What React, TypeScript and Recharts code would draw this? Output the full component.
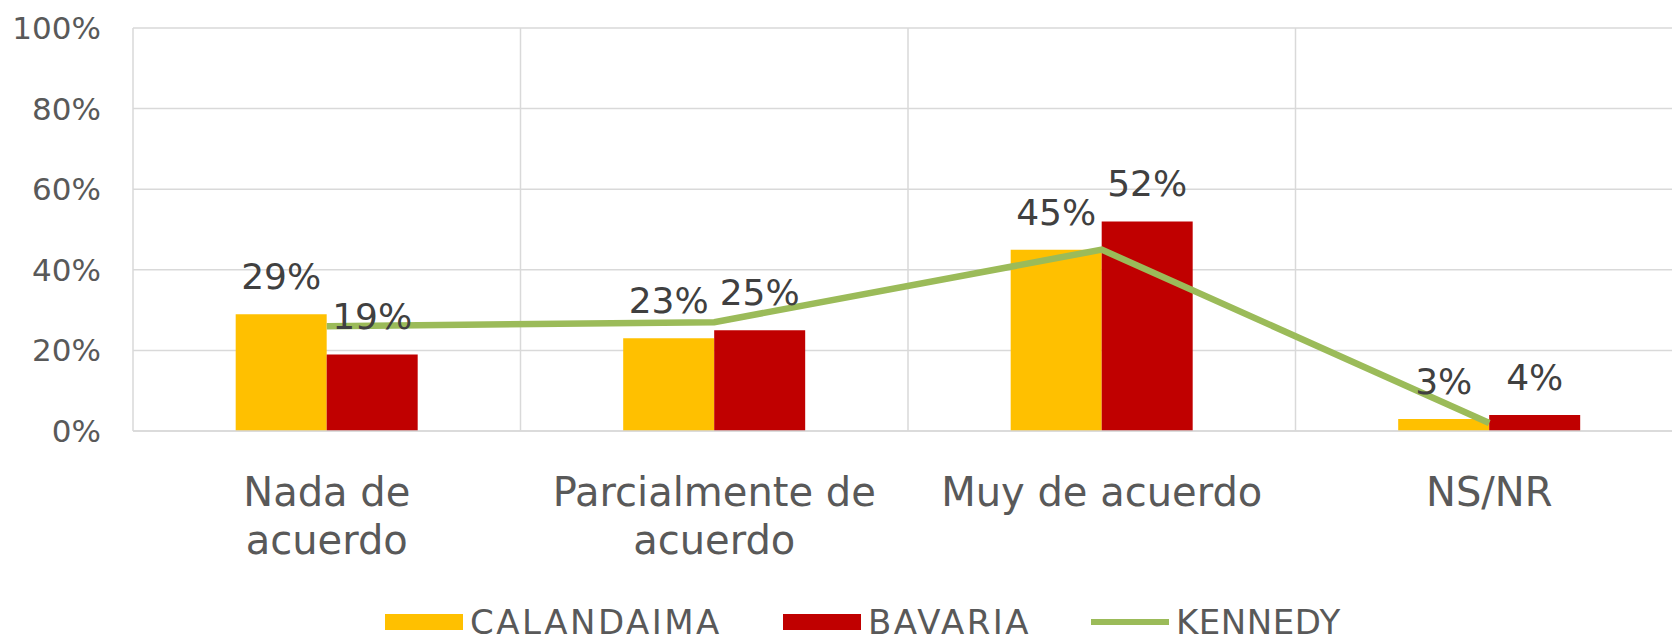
import React from 'react';
import { ComposedChart, Bar, Line, XAxis, YAxis, CartesianGrid, LabelList, Legend } from 'recharts';

const FONT = '"DejaVu Sans", sans-serif';

const categories = ['Nada de\nacuerdo', 'Parcialmente de\nacuerdo', 'Muy de acuerdo', 'NS/NR'];
const calandaima = [29, 23, 45, 3];
const bavaria = [19, 25, 52, 4];
const kennedy = [26, 27, 45, 2];
const yTicks = [0, 20, 40, 60, 80, 100];
const seriesNames = ['CALANDAIMA', 'BAVARIA', 'KENNEDY'];
const seriesColors = ['#FFC000', '#C00000', '#9BBB59'];
const seriesKinds = ['bar', 'bar', 'line'];

const data = categories.map((c, i) => ({
  category: c,
  calandaima: calandaima[i],
  bavaria: bavaria[i],
  kennedy: kennedy[i],
}));

const XTick = (props: any) => {
  const { x, y, payload } = props;
  const lines = String(payload.value).split('\n');
  return (
    <text x={x} y={y} textAnchor="middle" fill="#595959" fontSize={40} fontFamily={FONT}>
      {lines.map((l, i) => (
        <tspan key={i} x={x} dy={i === 0 ? 75 : 48}>
          {l}
        </tspan>
      ))}
    </text>
  );
};

const renderLegend = () => (
  <div
    style={{
      display: 'flex',
      alignItems: 'center',
      paddingLeft: 385,
      height: 36,
      fontFamily: FONT,
    }}
  >
    {seriesNames.map((name, i) => (
      <div key={name} style={{ display: 'flex', alignItems: 'center', marginRight: i === 0 ? 61 : 60 }}>
        <div
          style={{
            width: 78,
            height: seriesKinds[i] === 'bar' ? 16 : 6,
            background: seriesColors[i],
            marginRight: 7,
          }}
        />
        <span
          style={{
            fontSize: 34,
            color: '#595959',
            lineHeight: '36px',
            letterSpacing: i === 2 ? 0.5 : 2.5,
          }}
        >
          {name}
        </span>
      </div>
    ))}
  </div>
);

export default function App() {
  return (
    <div
      style={{
        position: 'fixed',
        left: 0,
        top: 0,
        width: 1672,
        height: 644,
        overflow: 'hidden',
        background: '#ffffff',
      }}
    >
      <ComposedChart
        width={1690}
        height={644}
        data={data}
        margin={{ top: 28, right: 7, bottom: 0, left: 0 }}
        barCategoryGap="26.5%"
        barGap={0}
      >
        <CartesianGrid
          stroke="#D9D9D9"
          strokeWidth={1.5}
          verticalCoordinatesGenerator={({ offset }: any) =>
            Array.from({ length: categories.length + 1 }, (_, k) => offset.left + (k * offset.width) / categories.length)
          }
        />
        <XAxis
          dataKey="category"
          height={213}
          tickLine={false}
          tickSize={0}
          tickMargin={0}
          axisLine={{ stroke: '#D9D9D9', strokeWidth: 1.5 }}
          tick={<XTick />}
          interval={0}
        />
        <YAxis
          width={133}
          domain={[0, 100]}
          ticks={yTicks}
          tickFormatter={(v: number) => `${v}%`}
          axisLine={false}
          tickLine={false}
          tickSize={0}
          tickMargin={32}
          tick={{ fill: '#595959', fontSize: 31, fontFamily: FONT }}
        />
        <Bar dataKey="calandaima" name={seriesNames[0]} fill={seriesColors[0]} isAnimationActive={false}>
          <LabelList
            dataKey="calandaima"
            position="top"
            offset={25}
            formatter={(v: any) => `${v}%`}
            fill="#404040"
            fontSize={36}
            fontFamily={FONT}
          />
        </Bar>
        <Bar dataKey="bavaria" name={seriesNames[1]} fill={seriesColors[1]} isAnimationActive={false}>
          <LabelList
            dataKey="bavaria"
            position="top"
            offset={25}
            formatter={(v: any) => `${v}%`}
            fill="#404040"
            fontSize={36}
            fontFamily={FONT}
          />
        </Bar>
        <Line
          dataKey="kennedy"
          name={seriesNames[2]}
          type="linear"
          stroke={seriesColors[2]}
          strokeWidth={6.5}
          dot={false}
          activeDot={false}
          isAnimationActive={false}
        />
        <Legend
          layout="horizontal"
          verticalAlign="middle"
          align="center"
          wrapperStyle={{ top: 604, left: 0, width: 1672 }}
          content={renderLegend}
        />
      </ComposedChart>
    </div>
  );
}
